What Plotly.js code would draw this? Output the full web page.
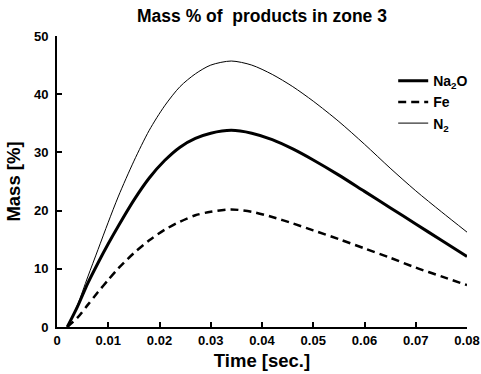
<!DOCTYPE html>
<html>
<head>
<meta charset="utf-8">
<script src="https://cdn.plot.ly/plotly-3.0.1.min.js"></script>
<style>
  html, body { margin: 0; padding: 0; background: #fff; }
  #chart { width: 481px; height: 374px; }
</style>
</head>
<body>
<div id="chart"></div>
<script>
// Time points [s]
const time = [0.002, 0.004, 0.006, 0.008, 0.010, 0.012, 0.015, 0.018, 0.021, 0.024, 0.027, 0.030,
              0.034, 0.038, 0.042, 0.046, 0.050, 0.055, 0.060, 0.065, 0.070, 0.075, 0.080];

// Mass fraction [%] of each product in zone 3
const na2o = [0, 3.5, 7.5, 11.0, 14.3, 17.4, 21.8, 25.6, 28.6, 30.9, 32.4, 33.3,
              33.8, 33.3, 32.2, 30.6, 28.7, 26.1, 23.3, 20.5, 17.7, 14.9, 12.1];
const fe   = [0, 1.6, 3.8, 6.0, 8.1, 10.1, 12.7, 14.9, 16.7, 18.1, 19.2, 19.8,
              20.2, 19.8, 18.9, 17.8, 16.6, 15.1, 13.5, 11.9, 10.2, 8.7, 7.2];
const n2   = [0, 3.8, 8.6, 13.3, 18.0, 22.5, 28.5, 33.8, 38.0, 41.3, 43.5, 45.0,
              45.7, 45.0, 43.4, 41.3, 38.8, 35.3, 31.4, 27.3, 23.4, 19.8, 16.3];

const names = ['Na<sub>2</sub>O', 'Fe', 'N<sub>2</sub>'];
const xTicks = [0, 0.01, 0.02, 0.03, 0.04, 0.05, 0.06, 0.07, 0.08];
const yTicks = [0, 10, 20, 30, 40, 50];

const FONT = 'Liberation Sans, Arial, sans-serif';

const traces = [
  { x: time, y: na2o, name: names[0], mode: 'lines',
    line: { color: '#000', width: 3, shape: 'spline', smoothing: 0.8 } },
  { x: time, y: fe, name: names[1], mode: 'lines',
    line: { color: '#000', width: 2.5, dash: '8px,5px', shape: 'spline', smoothing: 0.8 } },
  { x: time, y: n2, name: names[2], mode: 'lines',
    line: { color: '#000', width: 1, shape: 'spline', smoothing: 0.8 } }
];

const axisCommon = {
  showgrid: false, zeroline: false,
  showline: true, linecolor: '#000', linewidth: 2,
  ticks: 'inside', ticklen: 5, tickwidth: 2, tickcolor: '#000',
  tickfont: { family: FONT, size: 13, color: '#000', weight: 'bold' },
  fixedrange: true
};

const layout = {
  width: 481, height: 374,
  paper_bgcolor: '#fff', plot_bgcolor: '#fff',
  margin: { l: 57, r: 14, t: 36, b: 47, autoexpand: false },
  font: { family: FONT, color: '#000' },
  title: {
    text: 'Mass % of  products in zone 3',
    font: { family: FONT, size: 17.5, color: '#000', weight: 'bold' },
    x: 0.5, xref: 'paper', xanchor: 'center',
    y: 0.958, yref: 'container', yanchor: 'middle'
  },
  xaxis: Object.assign({}, axisCommon, {
    range: [0, 0.08],
    tickvals: xTicks,
    ticktext: xTicks.map(v => String(v)),
    title: { text: 'Time [sec.]', font: { family: FONT, size: 18.5, color: '#000', weight: 'bold' }, standoff: 7 }
  }),
  yaxis: Object.assign({}, axisCommon, {
    range: [0, 50],
    tickvals: yTicks,
    ticklabelstandoff: 4,
    title: { text: 'Mass [%]', font: { family: FONT, size: 18.5, color: '#000', weight: 'bold' }, standoff: 8 }
  }),
  showlegend: true,
  legend: {
    x: 0.82, y: 0.9, xanchor: 'left', yanchor: 'top',
    bgcolor: 'rgba(0,0,0,0)', borderwidth: 0,
    font: { family: FONT, size: 14, color: '#000', weight: 'bold' },
    tracegroupgap: 0, itemwidth: 30
  }
};

Plotly.newPlot('chart', traces, layout, { staticPlot: true, displayModeBar: false });
</script>
</body>
</html>
